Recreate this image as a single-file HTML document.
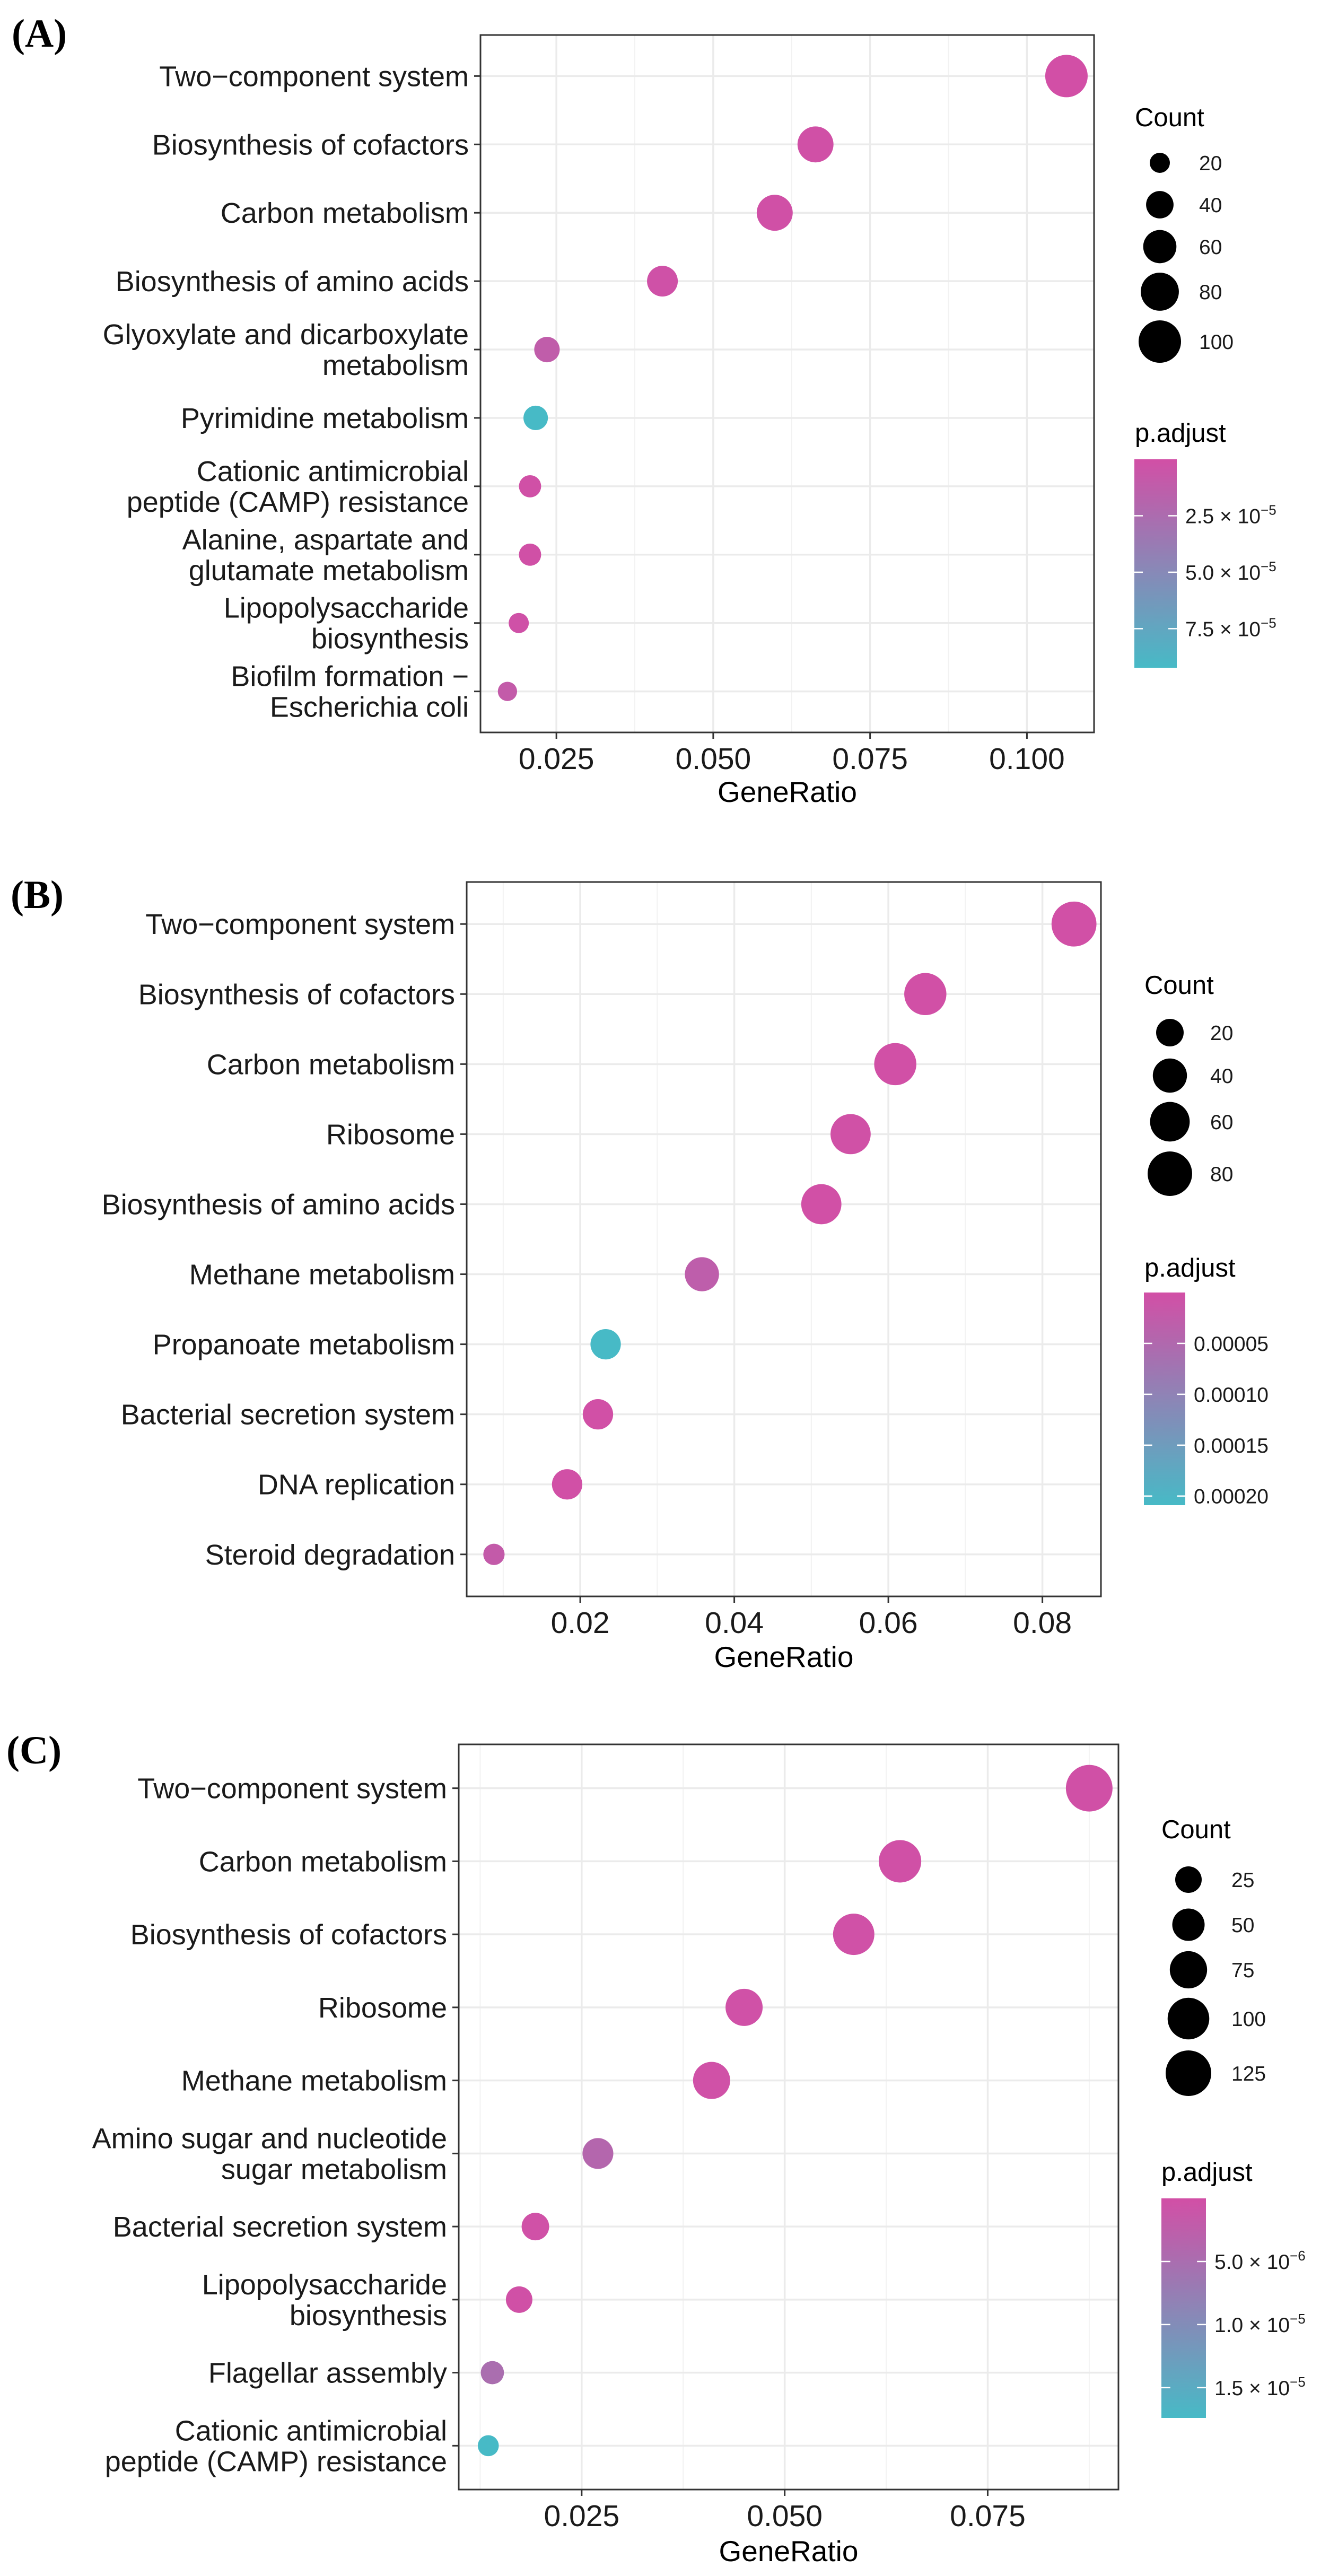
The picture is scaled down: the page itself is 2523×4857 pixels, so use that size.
<!DOCTYPE html>
<html><head><meta charset="utf-8">
<style>
html,body{margin:0;padding:0;background:#fff;}
svg{display:block;font-family:"Liberation Sans",Arial,sans-serif;}
</style></head>
<body>
<svg id="fig" xmlns="http://www.w3.org/2000/svg" width="2523" height="4857" viewBox="0 0 2523 4857"></svg>
<script>
// ---------- Panel A data ----------
const catsA = [["Two−component system"],["Biosynthesis of cofactors"],["Carbon metabolism"],["Biosynthesis of amino acids"],["Glyoxylate and dicarboxylate","metabolism"],["Pyrimidine metabolism"],["Cationic antimicrobial","peptide (CAMP) resistance"],["Alanine, aspartate and","glutamate metabolism"],["Lipopolysaccharide","biosynthesis"],["Biofilm formation −","Escherichia coli"]];
const ratioA = [0.1063,0.0663,0.0598,0.0419,0.0235,0.0217,0.0208,0.0208,0.0190,0.0172];
const countA = [100,71,71,51,34,31,25,25,20,18];
const padjA = [1e-7,1e-6,1e-6,2e-6,1.2e-5,9.2e-5,1e-6,1e-6,2e-6,1.0e-5];
const xTicksA = [0.025,0.050,0.075,0.100];
const xTickLabelsA = ["0.025","0.050","0.075","0.100"];
const sizeBreaksA = [20,40,60,80,100];
const colorBreaksA = [2.5e-5,5.0e-5,7.5e-5];
const colorLabelsA = [["2.5 × 10","−5"],["5.0 × 10","−5"],["7.5 × 10","−5"]];

// ---------- Panel B data ----------
const catsB = [["Two−component system"],["Biosynthesis of cofactors"],["Carbon metabolism"],["Ribosome"],["Biosynthesis of amino acids"],["Methane metabolism"],["Propanoate metabolism"],["Bacterial secretion system"],["DNA replication"],["Steroid degradation"]];
const ratioB = [0.0841,0.0648,0.0609,0.0551,0.0513,0.0358,0.0233,0.0223,0.0183,0.0088];
const countB = [82,70,70,62,62,40,28,28,28,5];
const padjB = [1e-6,1e-6,2e-6,3e-6,2e-6,3.0e-5,2.09e-4,2e-6,2e-6,2.2e-5];
const xTicksB = [0.02,0.04,0.06,0.08];
const xTickLabelsB = ["0.02","0.04","0.06","0.08"];
const sizeBreaksB = [20,40,60,80];
const colorBreaksB = [0.00005,0.00010,0.00015,0.00020];
const colorLabelsB = [["0.00005",""],["0.00010",""],["0.00015",""],["0.00020",""]];

// ---------- Panel C data ----------
const catsC = [["Two−component system"],["Carbon metabolism"],["Biosynthesis of cofactors"],["Ribosome"],["Methane metabolism"],["Amino sugar and nucleotide","sugar metabolism"],["Bacterial secretion system"],["Lipopolysaccharide","biosynthesis"],["Flagellar assembly"],["Cationic antimicrobial","peptide (CAMP) resistance"]];
const ratioC = [0.0875,0.0642,0.0585,0.0450,0.0410,0.0270,0.0193,0.0173,0.0140,0.0135];
const countC = [132,105,98,74,74,43,29,25,13,6];
const padjC = [2e-7,2e-7,3e-7,3e-7,3e-7,3.8e-6,3e-7,2e-7,5.0e-6,1.74e-5];
const xTicksC = [0.025,0.050,0.075];
const xTickLabelsC = ["0.025","0.050","0.075"];
const sizeBreaksC = [25,50,75,100,125];
const colorBreaksC = [5e-6,1.0e-5,1.5e-5];
const colorLabelsC = [["5.0 × 10","−6"],["1.0 × 10","−5"],["1.5 × 10","−5"]];

const NS = "http://www.w3.org/2000/svg";
const svg = document.getElementById("fig");
function mk(tag, attrs, parent){
  const e = document.createElementNS(NS, tag);
  for (const k in attrs) e.setAttribute(k, attrs[k]);
  (parent||svg).appendChild(e);
  return e;
}
const PINK=[210,79,166], TEAL=[71,186,198];
function col(t){
  t=Math.max(0,Math.min(1,t));
  const c=PINK.map((v,i)=>Math.round(v+(TEAL[i]-v)*t));
  return "rgb("+c.join(",")+")";
}

function drawPanel(P){
  const g = mk("g",{});
  
  
  const xs = v => P.left + (v - P.dmin)/(P.dmax - P.dmin)*(P.right - P.left);
  const n = P.cats.length;
  const step = (P.bottom - P.top)/(n - 1 + 1.2);
  const ys = i => P.top + (0.6 + i)*step;
  const rs = c => Math.sqrt(P.sa + P.sb*c);
  const cs = p => col((p - P.pmin)/(P.pmax - P.pmin));

  const pl = mk("text",{x:P.labX,y:P.labY,"font-family":"Liberation Serif, serif","font-size":75,"font-weight":"bold",fill:"#000"},g);
  pl.textContent = "("+P.id.toUpperCase()+")";
  
  

  const grid = mk("g",{},g);
  
  
  P.minor.forEach(v=>{
    if (v<=P.dmin||v>=P.dmax) return;
    const l=mk("line",{x1:xs(v),x2:xs(v),y1:P.top,y2:P.bottom,stroke:"#F2F2F2","stroke-width":2},grid);
    
    
  });
  P.ticks.forEach(v=>{
    const l=mk("line",{x1:xs(v),x2:xs(v),y1:P.top,y2:P.bottom,stroke:"#EBEBEB","stroke-width":3.5},grid);
    
    
  });
  for(let i=0;i<n;i++){
    const l=mk("line",{x1:P.left,x2:P.right,y1:ys(i),y2:ys(i),stroke:"#EBEBEB","stroke-width":3.5},grid);
    
    
  }
  for(let i=0;i<n;i++){
    const c=mk("circle",{cx:xs(P.ratio[i]),cy:ys(i),r:rs(P.count[i]),fill:cs(P.padj[i])},g);
    
    
  }
  const b=mk("rect",{x:P.left,y:P.top,width:P.right-P.left,height:P.bottom-P.top,fill:"none",stroke:"#333","stroke-width":3},g);
  
  
  for(let i=0;i<n;i++){
    const y=ys(i);
    const tk=mk("line",{x1:P.left-12,x2:P.left,y1:y,y2:y,stroke:"#333","stroke-width":3},g);
    
    
    const lines=P.cats[i];
    lines.forEach((s,j)=>{
      const off = lines.length===1?0:(j===0?-29:29);
      const t=mk("text",{x:P.left-22,y:y+off+19,"text-anchor":"end","font-size":54,fill:"#1a1a1a"},g);
      t.textContent=s;
      
      
    });
  }
  P.ticks.forEach((v,k)=>{
    const tk=mk("line",{x1:xs(v),x2:xs(v),y1:P.bottom,y2:P.bottom+12,stroke:"#333","stroke-width":3},g);
    
    
    const t=mk("text",{x:xs(v),y:P.tickY,"text-anchor":"middle","font-size":57,fill:"#1a1a1a"},g);
    t.textContent=P.tickLabels[k];
    
    
  });
  const xt=mk("text",{x:(P.left+P.right)/2,y:P.titleY,"text-anchor":"middle","font-size":55,fill:"#000"},g);
  xt.textContent="GeneRatio";
  
  

  const lg=mk("g",{},g);
  
  
  const ct=mk("text",{x:P.legX,y:P.countTitleY,"font-size":49,fill:"#000"},lg);
  ct.textContent="Count";
  
  
  P.sizeBreaks.forEach((c,k)=>{
    const y=P.sizeYs[k];
    const cc=mk("circle",{cx:P.legCx,cy:y,r:rs(c),fill:"#000"},lg);
    
    
    const t=mk("text",{x:P.legLx,y:y+14,"font-size":39,fill:"#1a1a1a"},lg);
    t.textContent=String(c);
    
    
  });
  const cg=mk("g",{},g);
  
  
  const pt=mk("text",{x:P.legX,y:P.pTitleY,"font-size":49,fill:"#000"},cg);
  pt.textContent="p.adjust";
  
  
  const gid="grad"+P.id;
  const defs=mk("defs",{},cg);
  const lgd=mk("linearGradient",{id:gid,x1:0,y1:0,x2:0,y2:1},defs);
  for(let k=0;k<=10;k++){ mk("stop",{offset:(k*10)+"%","stop-color":col(k/10)},lgd); }
  const bw=P.barX2-P.barX1;
  const bar=mk("rect",{x:P.barX1,y:P.barY1,width:bw,height:P.barY2-P.barY1,fill:"url(#"+gid+")"},cg);
  
  
  const cy = p => P.barY1 + (p-P.pmin)/(P.pmax-P.pmin)*(P.barY2-P.barY1);
  P.colorBreaks.forEach((p,k)=>{
    const y=cy(p);
    mk("line",{x1:P.barX1,x2:P.barX1+bw*0.2,y1:y,y2:y,stroke:"#fff","stroke-width":2.5},cg);
    mk("line",{x1:P.barX2-bw*0.2,x2:P.barX2,y1:y,y2:y,stroke:"#fff","stroke-width":2.5},cg);
    const t=mk("text",{x:P.barX2+16,y:y+14,"font-size":39,fill:"#1a1a1a"},cg);
    
    
    t.appendChild(document.createTextNode(P.colorLabels[k][0]));
    if(P.colorLabels[k][1]){
      const s=mk("tspan",{dy:-16,"font-size":26},t);
      s.textContent=P.colorLabels[k][1];
    }
  });
}

drawPanel({id:"a",cats:catsA,ratio:ratioA,count:countA,padj:padjA,ticks:xTicksA,tickLabels:xTickLabelsA,
  minor:[0.0375,0.0625,0.0875],sizeBreaks:sizeBreaksA,colorBreaks:colorBreaksA,colorLabels:colorLabelsA,
  left:906,right:2063,top:66,bottom:1381,dmin:0.0129,dmax:0.1107,sa:51,sb:15.5,pmin:0,pmax:9.23e-5,
  labX:22,labY:88,tickY:1450,titleY:1512,legX:2140,countTitleY:238,legCx:2187,legLx:2261,sizeYs:[307,386,465,550,644],
  pTitleY:833,barX1:2139,barX2:2219,barY1:866,barY2:1259});
drawPanel({id:"b",cats:catsB,ratio:ratioB,count:countB,padj:padjB,ticks:xTicksB,tickLabels:xTickLabelsB,
  minor:[0.01,0.03,0.05,0.07],sizeBreaks:sizeBreaksB,colorBreaks:colorBreaksB,colorLabels:colorLabelsB,
  left:880,right:2076,top:1663,bottom:3010,dmin:0.00526,dmax:0.0876,sa:313,sb:18.1,pmin:0,pmax:0.000209,
  labX:20,labY:1712,tickY:3079,titleY:3143,legX:2158,countTitleY:1874,legCx:2206,legLx:2282,sizeYs:[1947,2028,2115,2213],
  pTitleY:2407,barX1:2157,barX2:2235,barY1:2437,barY2:2838});
drawPanel({id:"c",cats:catsC,ratio:ratioC,count:countC,padj:padjC,ticks:xTicksC,tickLabels:xTickLabelsC,
  minor:[0.0125,0.0375,0.0625,0.0875],sizeBreaks:sizeBreaksC,colorBreaks:colorBreaksC,colorLabels:colorLabelsC,
  left:865,right:2109,top:3289,bottom:4694,dmin:0.00986,dmax:0.0911,sa:319,sb:12.24,pmin:0,pmax:1.74e-5,
  labX:12,labY:3325,tickY:4763,titleY:4829,legX:2190,countTitleY:3466,legCx:2241,legLx:2322,sizeYs:[3544,3629,3714,3806,3909],
  pTitleY:4112,barX1:2190,barX2:2274,barY1:4145,barY2:4559});
</script>
</body></html>
